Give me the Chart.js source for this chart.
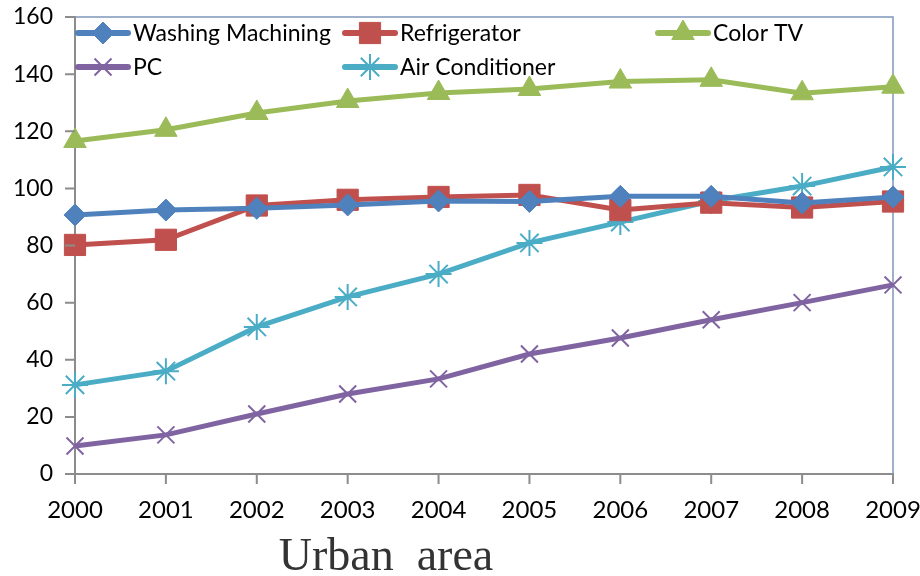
<!DOCTYPE html>
<html>
<head>
<meta charset="utf-8">
<script src="https://cdn.jsdelivr.net/npm/chart.js@4"></script>
<style>
  html, body { margin: 0; padding: 0; background: #fff; }
  #wrap { width: 920px; height: 576px; position: relative; }
</style>
</head>
<body>
<div id="wrap"><canvas id="usageChart"></canvas></div>
<script>
const years = ['2000', '2001', '2002', '2003', '2004', '2005', '2006', '2007', '2008', '2009'];
const washing = [90.7, 92.4, 93, 94.2, 95.6, 95.4, 97.2, 97.2, 94.9, 97];
const fridge = [80.2, 82, 94, 96, 97, 97.7, 92.4, 95, 93.3, 95.4];
const colorTv = [116.6, 120.5, 126.4, 130.6, 133.4, 134.8, 137.4, 138, 133.3, 135.6];
const pc = [9.8, 13.7, 21, 28, 33.3, 42, 47.6, 54, 60, 66.2];
const airCon = [31.2, 36, 51.5, 62, 70, 80.9, 88.2, 95.6, 100.8, 107.5];
const yTicks = [0, 20, 40, 60, 80, 100, 120, 140, 160];

const FONT = 'Lato, "Open Sans", sans-serif';

const series = [
    { label: 'Washing Machining', data: washing, color: '#4F81BD', style: 'rectRot', radius: 11, bw: 1, col: 0, row: 0 },
    { label: 'Refrigerator', data: fridge, color: '#C0504D', style: 'rect', radius: 15, bw: 1, col: 1, row: 0 },
    { label: 'Color TV', data: colorTv, color: '#9BBB59', style: 'triangle', radius: 13, bw: 1, col: 2, row: 0 },
    { label: 'PC', data: pc, color: '#8064A2', style: 'crossRot', radius: 12, bw: 2, col: 0, row: 1 },
    { label: 'Air Conditioner', data: airCon, color: '#4BACC6', style: 'star', radius: 13, bw: 2, col: 1, row: 1 }
];

// legend drawn inside the plot in a fixed grid, like the original
const gridLegend = {
    id: 'gridLegend',
    afterDatasetsDraw(chart) {
        const ctx = chart.ctx;
        const colX = [78, 345, 658];
        const rowY = [33, 67];
        ctx.save();
        series.forEach(s => {
            const x = colX[s.col];
            const y = rowY[s.row];
            ctx.strokeStyle = s.color;
            ctx.lineWidth = 6;
            ctx.lineCap = 'round';
            ctx.beginPath();
            ctx.moveTo(x, y);
            ctx.lineTo(x + 50, y);
            ctx.stroke();
            ctx.fillStyle = s.color;
            ctx.lineWidth = s.bw;
            ctx.lineCap = 'butt';
            Chart.helpers.drawPoint(ctx, { pointStyle: s.style, radius: s.radius, borderWidth: s.bw, rotation: 0 }, x + 25, y);
            ctx.fillStyle = '#000';
            ctx.font = '23px ' + FONT;
            ctx.textBaseline = 'middle';
            ctx.fillText(s.label, x + 55, y + 1);
        });
        ctx.restore();
    }
};

const frame = {
    id: 'frame',
    beforeDatasetsDraw(chart) {
        const a = chart.chartArea;
        const ctx = chart.ctx;
        ctx.save();
        ctx.strokeStyle = '#7F96BC';
        ctx.lineWidth = 1.5;
        ctx.beginPath();
        ctx.moveTo(a.left, a.top);
        ctx.lineTo(a.right, a.top);
        ctx.lineTo(a.right, a.bottom);
        ctx.stroke();
        ctx.restore();
    },
    afterDraw(chart) {
        const ctx = chart.ctx;
        ctx.save();
        ctx.fillStyle = '#333';
        ctx.font = '46px "Liberation Serif", serif';
        ctx.textAlign = 'center';
        ctx.textBaseline = 'alphabetic';
        ctx.fillText('Urban  area', 386, 570);
        ctx.restore();
    }
};

new Chart(document.getElementById('usageChart'), {
    type: 'line',
    data: {
        labels: years,
        datasets: series.map(s => ({
            label: s.label,
            data: s.data,
            borderColor: s.color,
            backgroundColor: s.color,
            borderWidth: 5,
            pointStyle: s.style,
            pointRadius: s.radius,
            pointHoverRadius: s.radius,
            pointBorderWidth: s.bw,
            pointBorderColor: s.color,
            pointBackgroundColor: s.color,
            tension: 0,
            fill: false
        }))
    },
    options: {
        responsive: true,
        maintainAspectRatio: false,
        animation: false,
        layout: { padding: { left: 0, right: 27, top: 17, bottom: 0 } },
        scales: {
            x: {
                offset: false,
                grid: { display: false, drawTicks: false },
                border: { display: true, color: '#8C8C8C', width: 2 },
                ticks: { color: '#000', font: { family: FONT, size: 24 }, padding: 22, maxRotation: 0 },
                afterFit(scale) {
                    scale.height = 102;
                    scale.paddingLeft = 0;
                    scale.paddingRight = 0;
                }
            },
            y: {
                min: 0,
                max: 160,
                afterBuildTicks(scale) { scale.ticks = yTicks.map(v => ({ value: v })); },
                grid: { display: false },
                border: { display: true, color: '#8C8C8C', width: 2 },
                ticks: { color: '#000', font: { family: FONT, size: 23 }, padding: 14 },
                afterFit(scale) {
                    scale.width = 75;
                    scale.paddingTop = 0;
                    scale.paddingBottom = 0;
                }
            }
        },
        plugins: {
            legend: { display: false },
            tooltip: { enabled: false }
        }
    },
    plugins: [frame, gridLegend, {
        id: 'tickMarks',
        afterDraw(chart) {
            const ctx = chart.ctx;
            const a = chart.chartArea;
            const xs = chart.scales.x;
            const ys = chart.scales.y;
            ctx.save();
            ctx.strokeStyle = '#8C8C8C';
            ctx.lineWidth = 2;
            ctx.beginPath();
            years.forEach((_, i) => {
                const px = xs.getPixelForValue(i);
                ctx.moveTo(px, a.bottom);
                ctx.lineTo(px, a.bottom + 10);
            });
            yTicks.forEach(v => {
                const py = ys.getPixelForValue(v);
                ctx.moveTo(a.left - 10, py);
                ctx.lineTo(a.left, py);
            });
            ctx.stroke();
            ctx.restore();
        }
    }]
});
</script>
</body>
</html>
